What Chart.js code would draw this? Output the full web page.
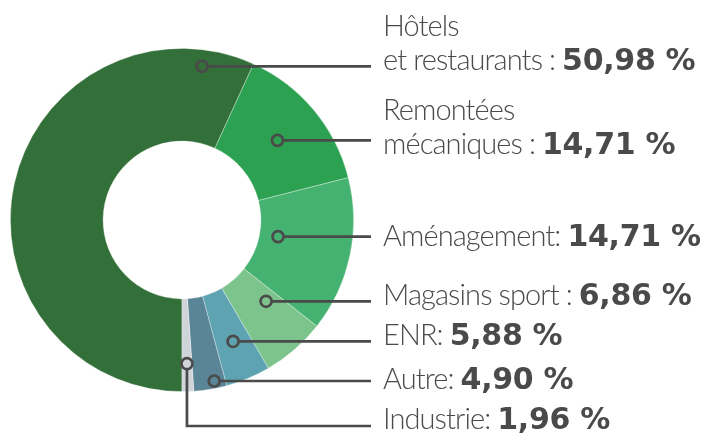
<!DOCTYPE html>
<html>
<head>
<meta charset="utf-8">
<script src="https://cdn.jsdelivr.net/npm/chart.js@4"></script>
<style>
  html, body { margin: 0; padding: 0; background: #fff; }
  #wrap { width: 704px; height: 434px; }
</style>
</head>
<body>
<div id="wrap"><canvas id="chart" width="704" height="434"></canvas></div>
<script>
// categories in drawing order (clockwise from the bottom)
const categories = ["Hôtels et restaurants", "Remontées mécaniques", "Aménagement", "Magasins sport", "ENR", "Autre", "Industrie"];
// share of the ring each slice takes in the picture
const sliceShares = [56.9, 14.2, 14.6, 6.0, 4.2, 3.1, 1.1];
// printed values
const percentTexts = ["50,98 %", "14,71 %", "14,71 %", "6,86 %", "5,88 %", "4,90 %", "1,96 %"];
const labelLines = [
  ["Hôtels", "et restaurants : "],
  ["Remontées", "mécaniques : "],
  ["Aménagement: "],
  ["Magasins sport : "],
  ["ENR: "],
  ["Autre: "],
  ["Industrie: "]
];
const sliceColors = ["#336f39", "#2da152", "#46b271", "#7dc48c", "#5ea3b1", "#5a8596", "#cfd4d8"];

// where the leader dot sits inside each slice: [fraction along the arc, fraction across the ring]
const anchorPos = [[0.916, 0.82], [0.5, 0.49], [0.46, 0.2], [0.27, 0.41], [0.49, 0.57], [0.34, 0.92], [0.5, 0.7]];
const textBaselines = [[36, 70], [120, 154], [246], [305], [345], [389], [429]];
const elbowY = [null, null, null, null, null, null, 426];

const textX = 383;
const lineEndX = 371;
const ink = "#4a4a4a";

const leaderLabels = {
  id: "leaderLabels",
  afterDraw(chart) {
    const ctx = chart.ctx;
    const arcs = chart.getDatasetMeta(0).data;
    ctx.save();
    arcs.forEach((arc, i) => {
      const p = arc.getProps(["x", "y", "startAngle", "endAngle", "innerRadius", "outerRadius"], true);
      const a = p.startAngle + (p.endAngle - p.startAngle) * anchorPos[i][0];
      const r = p.innerRadius + (p.outerRadius - p.innerRadius) * anchorPos[i][1];
      const cx = p.x + Math.cos(a) * r;
      const cy = p.y + Math.sin(a) * r;

      ctx.strokeStyle = ink;
      ctx.lineWidth = 2.7;
      ctx.beginPath();
      ctx.moveTo(cx, cy);
      if (elbowY[i] !== null) {
        ctx.lineTo(cx, elbowY[i]);
        ctx.lineTo(lineEndX, elbowY[i]);
      } else {
        ctx.lineTo(lineEndX, cy);
      }
      ctx.stroke();

      ctx.beginPath();
      ctx.arc(cx, cy, 5.5, 0, Math.PI * 2);
      ctx.fillStyle = sliceColors[i];
      ctx.fill();
      ctx.stroke();

      // text
      ctx.fillStyle = ink;
      ctx.textBaseline = "alphabetic";
      ctx.textAlign = "left";
      const lines = labelLines[i];
      lines.forEach((txt, j) => {
        ctx.font = "300 29px Lato";
        ctx.letterSpacing = "-0.9px";
        ctx.fillText(txt, textX, textBaselines[i][j]);
        if (j === lines.length - 1) {
          const w = ctx.measureText(txt).width;
          ctx.font = "bold 30px 'DejaVu Sans'";
          ctx.letterSpacing = "-0.3px";
          ctx.fillText(percentTexts[i], textX + w, textBaselines[i][j]);
        }
      });
    });
    ctx.restore();
  }
};

new Chart(document.getElementById("chart"), {
  type: "doughnut",
  data: {
    labels: categories,
    datasets: [{
      data: sliceShares,
      backgroundColor: sliceColors,
      borderColor: "rgba(255,255,255,0.4)",
      borderWidth: 0.8
    }]
  },
  options: {
    responsive: false,
    animation: false,
    rotation: 180,
    cutout: "46%",
    layout: { padding: { left: 10, right: 350, top: 48, bottom: 42 } },
    plugins: {
      legend: { display: false },
      tooltip: { enabled: false }
    }
  },
  plugins: [leaderLabels]
});
</script>
</body>
</html>
